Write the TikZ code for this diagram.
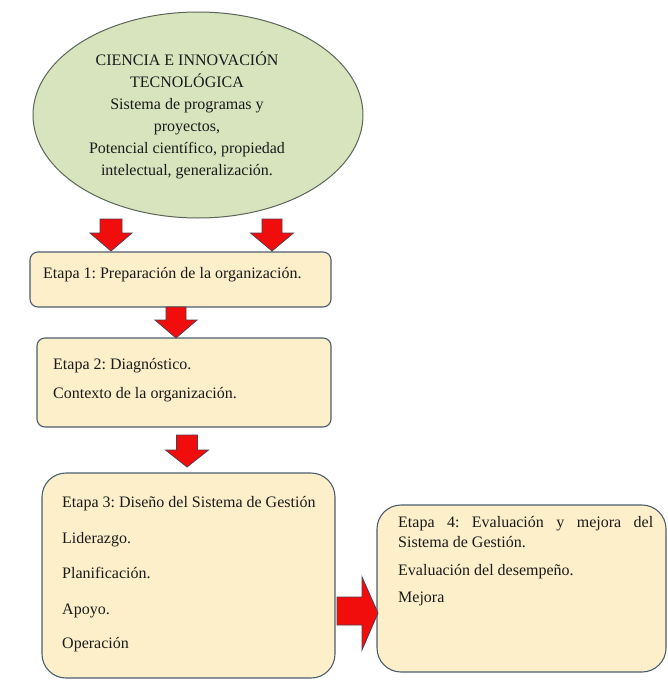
\documentclass[tikz,border=0pt]{standalone}
\usepackage{fontspec}
\setmainfont{Liberation Serif}
\hyphenpenalty=10000
\exhyphenpenalty=10000
\frenchspacing
\definecolor{ellfill}{HTML}{D8E4BE}
\definecolor{ellline}{HTML}{5B6658}
\definecolor{boxfill}{HTML}{FCEFCA}
\definecolor{boxline}{HTML}{4C5D6E}
\definecolor{arrred}{HTML}{F20D0D}
\definecolor{arrline}{HTML}{5A3A4A}
\definecolor{txt}{HTML}{1A1A1A}
\newcommand{\darr}[6]{% cx, top, shaft half width, head half width, head start, tip
  \filldraw[redarrow] (#1-#3,#2) -- (#1+#3,#2) -- (#1+#3,#5) -- (#1+#4,#5) -- (#1,#6) -- (#1-#4,#5) -- (#1-#3,#5) -- cycle;}
\begin{document}
\frenchspacing
\begin{tikzpicture}[x=1pt,y=-1pt,
  every node/.style={font=\fontsize{16}{20}\selectfont\frenchspacing, text=txt, inner sep=0pt},
  stagebox/.style={draw=boxline, fill=boxfill, line width=1.1pt},
  redarrow/.style={fill=arrred, draw=arrline, line width=0.8pt, line join=miter},
  lbl/.style={anchor=base west}]
\useasboundingbox (0,0) rectangle (668,680);
% ellipse
\filldraw[draw=ellline, fill=ellfill, line width=1pt] (198,115) ellipse [x radius=165, y radius=103];
\node[anchor=north, align=center, font=\fontsize{16}{22}\selectfont] (cit) at (187,52)
 {CIENCIA E INNOVACIÓN\\TECNOLÓGICA\\Sistema de programas y\\proyectos,\\Potencial científico, propiedad\\intelectual, generalización.};
% boxes
\draw[stagebox, rounded corners=8pt] (30,252) rectangle (331,307);
\draw[stagebox, rounded corners=8pt] (37,338) rectangle (331,427);
\draw[stagebox, rounded corners=24pt] (42,473) rectangle (335,678);
\draw[stagebox, rounded corners=24pt] (377,505) rectangle (666,672);
% texts
\node[lbl] (e1) at (43,278) {Etapa 1: Preparación de la organización.};
\node[lbl] (e2) at (53,369) {Etapa 2: Diagnóstico.};
\node[lbl] (e2a) at (53,398) {Contexto de la organización.};
\node[lbl] (e3) at (62,507) {Etapa 3: Diseño del Sistema de Gestión};
\node[lbl] (e3a) at (62,543) {Liderazgo.};
\node[lbl] (e3b) at (62,578) {Planificación.};
\node[lbl] (e3c) at (62,614) {Apoyo.};
\node[lbl] (e3d) at (62,648) {Operación};
\node[anchor=north west, text width=255pt, align=justify] (e4) at (398,516)
 {Etapa 4: Evaluación y mejora del \mbox{Sistema} de Gestión.};
\node[lbl] (e4a) at (398,575) {Evaluación del desempeño.};
\node[lbl] (e4b) at (398,602) {Mejora};
% block arrows
\darr{111}{219}{11}{21}{233}{251}
\darr{272}{219}{10}{21.5}{233}{251}
\darr{176}{307}{10}{21}{320}{338}
\darr{187}{435}{10.5}{21.5}{450}{467}
\filldraw[redarrow] (337,597) -- (362,597) -- (362,577) -- (378,613) -- (362,650) -- (362,625) -- (337,625) -- cycle;
\end{tikzpicture}
\end{document}
